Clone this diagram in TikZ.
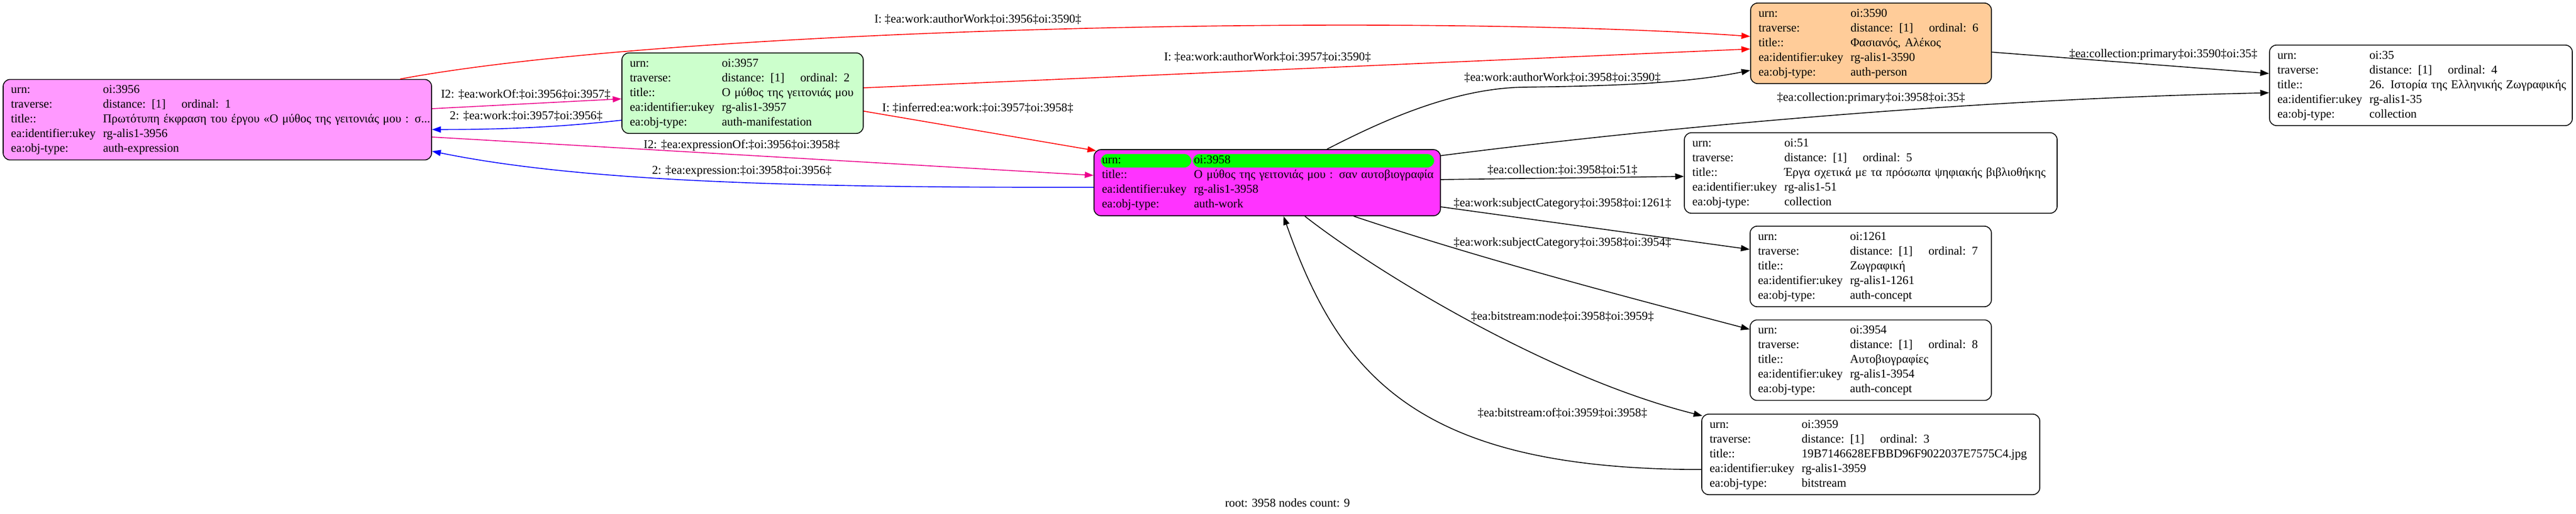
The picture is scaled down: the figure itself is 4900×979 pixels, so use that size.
\documentclass[tikz,border=0pt]{standalone}
\usepackage{fontspec}
\setmainfont{Liberation Serif}
\usetikzlibrary{arrows.meta}
\definecolor{exprpink}{RGB}{255,153,255}
\definecolor{manifgreen}{RGB}{204,255,204}
\definecolor{workpink}{RGB}{255,51,255}
\definecolor{personorange}{RGB}{255,204,153}
\definecolor{urngreen}{RGB}{0,255,0}
\newcommand{\rowfont}{\fontsize{9.75}{11.95}\selectfont}
\newcommand{\fieldrow}[2]{\strut\makebox[26.25mm][l]{#1}\mbox{#2}}
\newcommand{\travrow}[1]{\fieldrow{traverse:}{distance: [1]\hspace{4.5mm}ordinal: #1}}
\tikzset{recbox/.style={draw, rounded corners=2mm, line width=0.7pt, inner xsep=2.25mm,
           inner ysep=0pt, align=left, font=\rowfont, minimum height=23mm},
         rel/.style={line width=0.7pt, -{Triangle[length=2.5mm,width=1.75mm]}},
         rellabel/.style={font=\rowfont, inner sep=0pt}}

\begin{document}
\begin{tikzpicture}[x=0.15mm,y=-0.15mm]
\useasboundingbox (0,0) rectangle (4900,979);
\node[recbox, fill=exprpink, text width=117.75mm] (n3956) at (413.5,228)
  {\fieldrow{urn:}{oi:3956}\\ \travrow{1}\\
   \fieldrow{title::}{Πρωτότυπη έκφραση του έργου «Ο μύθος της γειτονιάς μου : σ...}\\
   \fieldrow{ea:identifier:ukey}{rg-alis1-3956}\\ \fieldrow{ea:obj-type:}{auth-expression}};
\node[recbox, fill=manifgreen, text width=64.35mm] (n3957) at (1412.5,177.5)
  {\fieldrow{urn:}{oi:3957}\\ \travrow{2}\\ \fieldrow{title::}{Ο μύθος της γειτονιάς μου}\\
   \fieldrow{ea:identifier:ukey}{rg-alis1-3957}\\ \fieldrow{ea:obj-type:}{auth-manifestation}};
\node[recbox, fill=workpink, text width=94.35mm, minimum height=18.9mm,
  path picture={
    \fill[urngreen] ([shift={(13,8.3)}]path picture bounding box.north west) rectangle ([shift={(185,34)}]path picture bounding box.north west);
    \fill[urngreen] ([shift={(188,8.3)}]path picture bounding box.north west) rectangle ([shift={(647,34)}]path picture bounding box.north west);}]
  (n3958) at (2410.5,348)
  {\fieldrow{urn:}{oi:3958}\\ \fieldrow{title::}{Ο μύθος της γειτονιάς μου : σαν αυτοβιογραφία}\\
   \fieldrow{ea:identifier:ukey}{rg-alis1-3958}\\ \fieldrow{ea:obj-type:}{auth-work}};
\node[recbox, fill=personorange, text width=64.2mm] (n3590) at (3559,82.5)
  {\fieldrow{urn:}{oi:3590}\\ \travrow{6}\\ \fieldrow{title::}{Φασιανός, Αλέκος}\\
   \fieldrow{ea:identifier:ukey}{rg-alis1-3590}\\ \fieldrow{ea:obj-type:}{auth-person}};
\node[recbox, fill=white, text width=81.9mm] (n35) at (4605,162.5)
  {\fieldrow{urn:}{oi:35}\\ \travrow{4}\\ \fieldrow{title::}{26. Ιστορία της Ελληνικής Ζωγραφικής}\\
   \fieldrow{ea:identifier:ukey}{rg-alis1-35}\\ \fieldrow{ea:obj-type:}{collection}};
\node[recbox, fill=white, text width=101.85mm] (n51) at (3558.5,329.5)
  {\fieldrow{urn:}{oi:51}\\ \travrow{5}\\ \fieldrow{title::}{Έργα σχετικά με τα πρόσωπα ψηφιακής βιβλιοθήκης}\\
   \fieldrow{ea:identifier:ukey}{rg-alis1-51}\\ \fieldrow{ea:obj-type:}{collection}};
\node[recbox, fill=white, text width=64.35mm] (n1261) at (3558.5,507.5)
  {\fieldrow{urn:}{oi:1261}\\ \travrow{7}\\ \fieldrow{title::}{Ζωγραφική}\\
   \fieldrow{ea:identifier:ukey}{rg-alis1-1261}\\ \fieldrow{ea:obj-type:}{auth-concept}};
\node[recbox, fill=white, text width=64.35mm] (n3954) at (3558.5,686)
  {\fieldrow{urn:}{oi:3954}\\ \travrow{8}\\ \fieldrow{title::}{Αυτοβιογραφίες}\\
   \fieldrow{ea:identifier:ukey}{rg-alis1-3954}\\ \fieldrow{ea:obj-type:}{auth-concept}};
\node[recbox, fill=white, text width=91.95mm] (n3959) at (3558.5,865.5)
  {\fieldrow{urn:}{oi:3959}\\ \travrow{3}\\ \fieldrow{title::}{19B7146628EFBBD96F9022037E7575C4.jpg}\\
   \fieldrow{ea:identifier:ukey}{rg-alis1-3959}\\ \fieldrow{ea:obj-type:}{bitstream}};

\draw[rel, red] ([shift={(347.5,0)}]n3956.north) .. controls (1300,50) and (2700,25) .. ([shift={(0,-13.2)}]n3590.west);
\draw[rel, red] ([shift={(0,-10.2)}]n3957.east) -- ([shift={(0,10.8)}]n3590.west);
\draw[rel, magenta] ([shift={(0,-21)}]n3956.east) -- ([shift={(0,10.8)}]n3957.west);
\draw[rel, blue] ([shift={(0,51.5)}]n3957.west) .. controls (1100,238) and (1000,246.7) .. ([shift={(0,18.7)}]n3956.east);
\draw[rel, magenta] ([shift={(0,33)}]n3956.east) -- ([shift={(0,-14)}]n3958.west);
\draw[rel, blue] ([shift={(0,8.7)}]n3958.west) .. controls (1500,358) and (1100,345) .. ([shift={(0,60)}]n3956.east);
\draw[rel, red] ([shift={(0,34.2)}]n3957.east) -- ([shift={(5,3)}]n3958.north west);
\draw[rel] ([shift={(113.5,0)}]n3958.north) .. controls (2620,235) and (2760,168) .. (2900,166)
  .. controls (3050,164) and (3200,160) .. ([shift={(0,51.5)}]n3590.west);
\draw[rel] ([shift={(-2,-51.3)}]n3958.east) .. controls (3100,250) and (3700,190) .. ([shift={(0,14.2)}]n35.west);
\draw[rel] ([shift={(0,-6)}]n3958.east) -- ([shift={(0,6.5)}]n51.west);
\draw[rel] ([shift={(0,16.8)}]n3590.east) -- ([shift={(0,-22.5)}]n35.west);
\draw[rel] ([shift={(0,46)}]n3958.east) -- ([shift={(0,-32.5)}]n1261.west);
\draw[rel] ([shift={(164.5,0)}]n3958.south) .. controls (2820,494) and (3080,562) .. ([shift={(0,-58.7)}]n3954.west);
\draw[rel] ([shift={(71.5,0)}]n3958.south) .. controls (2620,520) and (2950,720) .. ([shift={(2,4)}]n3959.north west);
\draw[rel] ([shift={(0,28.8)}]n3959.west) .. controls (2700,894) and (2550,720) .. ([shift={(31,0)}]n3958.south);

\node[rellabel] (lwork3956) at (1860,37) {I: ‡ea:work:authorWork‡oi:3956‡oi:3590‡};
\node[rellabel] (lwork3957) at (2411,109) {I: ‡ea:work:authorWork‡oi:3957‡oi:3590‡};
\node[rellabel] (lworkof) at (1000,180) {I2: ‡ea:workOf:‡oi:3956‡oi:3957‡};
\node[rellabel] (lwork) at (1001,221) {2: ‡ea:work:‡oi:3957‡oi:3956‡};
\node[rellabel] (linferred) at (1860,206) {I: ‡inferred:ea:work:‡oi:3957‡oi:3958‡};
\node[rellabel] (lexprof) at (1411,277) {I2: ‡ea:expressionOf:‡oi:3956‡oi:3958‡};
\node[rellabel] (lexpr) at (1411,326) {2: ‡ea:expression:‡oi:3958‡oi:3956‡};
\node[rellabel] (lwork3958) at (2972,148) {‡ea:work:authorWork‡oi:3958‡oi:3590‡};
\node[rellabel] (lprim3958) at (3559,187) {‡ea:collection:primary‡oi:3958‡oi:35‡};
\node[rellabel] (lprim3590) at (4115,104) {‡ea:collection:primary‡oi:3590‡oi:35‡};
\node[rellabel] (lcoll) at (2972,324) {‡ea:collection:‡oi:3958‡oi:51‡};
\node[rellabel] (lsubj1261) at (2972,388) {‡ea:work:subjectCategory‡oi:3958‡oi:1261‡};
\node[rellabel] (lsubj3954) at (2972,463) {‡ea:work:subjectCategory‡oi:3958‡oi:3954‡};
\node[rellabel] (lbitnode) at (2972,603) {‡ea:bitstream:node‡oi:3958‡oi:3959‡};
\node[rellabel] (lbitof) at (2972,787) {‡ea:bitstream:of‡oi:3959‡oi:3958‡};
\node[rellabel] (lroot) at (2449,958) {root: 3958 nodes count: 9};
\end{tikzpicture}
\end{document}
